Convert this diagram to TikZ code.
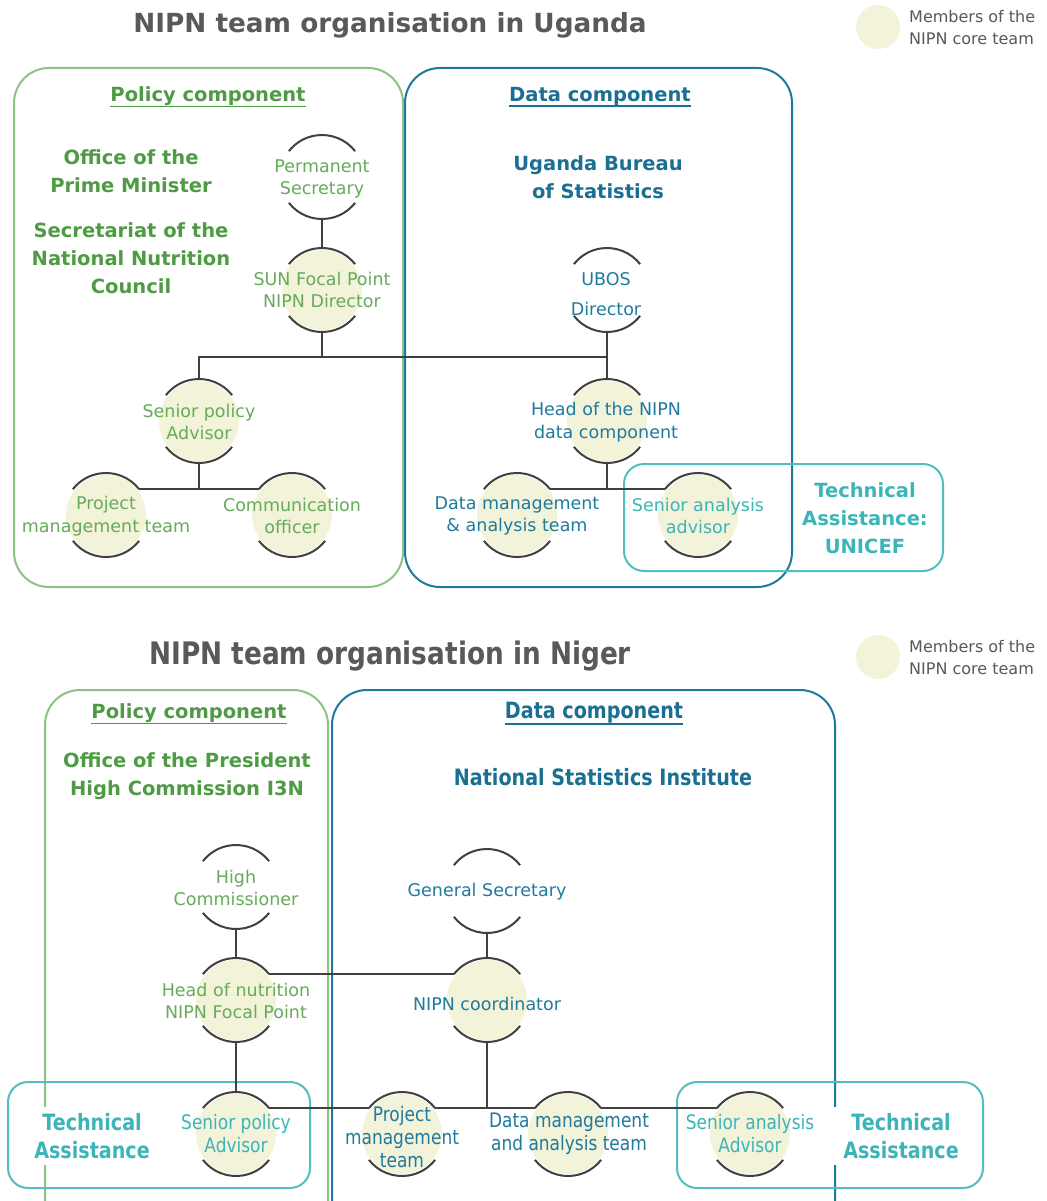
\documentclass[tikz,border=0pt]{standalone}
\usepackage{fontspec}
\setmainfont{DejaVu Sans}
\newfontfamily\condf{DejaVu Sans}[FakeStretch=0.85]
\definecolor{gtext}{HTML}{4F9A44}
\definecolor{glbl}{HTML}{66AB5A}
\definecolor{gbox}{HTML}{8CC282}
\definecolor{btext}{HTML}{1A6F92}
\definecolor{blbl}{HTML}{1F7A9E}
\definecolor{bbox}{HTML}{1E7A9C}
\definecolor{tealtxt}{HTML}{3DB4B7}
\definecolor{tbox}{HTML}{52BEC1}
\definecolor{pale}{HTML}{F3F3D9}
\definecolor{titlec}{HTML}{595959}
\definecolor{connc}{HTML}{404040}
\newcommand\lblf{\fontsize{17.5}{22.5}\selectfont}
\newcommand\clblf{\condf\fontsize{20}{23}\selectfont}
\newcommand\hdrf{\fontsize{19.5}{28}\selectfont\bfseries}
\newcommand\chdrf{\condf\fontsize{22.5}{28}\selectfont\bfseries}
\newcommand\titlef{\fontsize{26.3}{30}\selectfont\bfseries}
\newcommand\ctitlef{\condf\fontsize{31}{34}\selectfont\bfseries}
\newcommand\legf{\fontsize{16}{22}\selectfont}
\newcommand\caparcs[1]{%
  \draw[conn] ([shift={(38:42pt)}]#1.center) arc[start angle=38,end angle=142,radius=42pt];
  \draw[conn] ([shift={(218:42pt)}]#1.center) arc[start angle=218,end angle=322,radius=42pt];}
\begin{document}
\begin{tikzpicture}[x=1pt,y=1pt,
  mem/.style={circle, minimum size=80pt, inner sep=0pt, outer sep=2pt, fill=pale},
  nomem/.style={circle, minimum size=80pt, inner sep=0pt, outer sep=2pt},
  lbl/.style={align=center, font=\lblf, inner sep=0pt},
  clbl/.style={align=center, font=\clblf, inner sep=0pt},
  hdr/.style={align=center, font=\hdrf, inner sep=0pt},
  chdr/.style={align=center, font=\chdrf, inner sep=0pt},
  conn/.style={draw=connc, line width=2pt},
  gbx/.style={draw=gbox, line width=2pt, rounded corners=35pt},
  bbx/.style={draw=bbox, line width=2pt, rounded corners=35pt},
  tbx/.style={draw=tbox, line width=2pt, rounded corners=20pt},
  legc/.style={circle, fill=pale, minimum size=44pt, inner sep=0pt},
  legt/.style={anchor=west, align=left, font=\legf, text=titlec, inner sep=0pt},
  ul/.style={line width=1.6pt}
]
\useasboundingbox (0,0) rectangle (1046,-1201);
\fill[white] (0,0) rectangle (1046,-1201);
\clip (0,0) rectangle (1046,-1201);

% ================= UGANDA =================
\node[font=\titlef, text=titlec] (utitle) at (390,-25) {NIPN team organisation in Uganda};
\node[legc] (uleg) at (878,-27) {};
\node[legt] (ulegt) at (909,-28) {Members of the\\NIPN core team};

\draw[gbx] (14,-68) rectangle (403,-587);
\draw[bbx] (405,-68) rectangle (792,-587);
\draw[tbx] (624,-464) rectangle (943,-571);

\node[hdr, text=gtext] (upc) at (208,-96) {Policy component};
\draw[gtext, ul] ([yshift=-5pt]upc.base west) -- ([yshift=-5pt]upc.base east);
\node[hdr, text=btext] (udc) at (600,-96) {Data component};
\draw[btext, ul] ([yshift=-5pt]udc.base west) -- ([yshift=-5pt]udc.base east);

\node[hdr, text=gtext] (uopm) at (131,-171) {Office of the\\Prime Minister};
\node[hdr, text=gtext] (usnnc) at (131,-258) {Secretariat of the\\National Nutrition\\Council};
\node[hdr, text=btext] (uubos) at (598,-177) {Uganda Bureau\\of Statistics};
\node[hdr, text=tealtxt] (uta) at (865,-518) {Technical\\Assistance:\\UNICEF};

\node[nomem] (ps) at (322,-177) {};
\node[mem] (sun) at (322,-290) {};
\node[nomem] (ubos) at (607,-290) {};
\node[mem] (spa) at (199,-421) {};
\node[mem] (head) at (607,-421) {};
\node[mem] (pm) at (106,-515) {};
\node[mem] (co) at (292,-515) {};
\node[mem] (dm) at (517,-515) {};
\node[mem] (sa) at (698,-515) {};
\foreach \n in {ps,sun,ubos,spa,head,pm,co,dm,sa} {\caparcs{\n}}

\coordinate (uj) at (322,-357);
\draw[conn] (ps.south) -- (sun.north);
\draw[conn] (sun.south) -- (uj);
\draw[conn] (spa.north) |- (ubos.south |- uj) -- (ubos.south);
\draw[conn] (ubos.south |- uj) -- (head.north);
\draw[conn] (spa.south) -- (spa.south |- pm.38);
\draw[conn] (pm.38) -- (co.142);
\draw[conn] (head.south) -- (head.south |- dm.38);
\draw[conn] (dm.38) -- (sa.142);

\node[lbl, text=glbl] (pst) at (322,-179) {Permanent\\Secretary};
\node[lbl, text=glbl] (sunt) at (322,-290) {SUN Focal Point\\NIPN Director};
\node[lbl, text=blbl] (ubost) at (606,-294) {UBOS\\[7pt]Director};
\node[lbl, text=glbl] (spat) at (199,-422) {Senior policy\\Advisor};
\node[lbl, text=blbl] (headt) at (606,-422) {Head of the NIPN\\data component};
\node[lbl, text=glbl] (pmt) at (106,-516) {Project\\management team};
\node[lbl, text=glbl] (cot) at (292,-516) {Communication\\officer};
\node[lbl, text=blbl] (dmt) at (517,-516) {Data management\\\& analysis team};
\node[lbl, text=tealtxt] (sat) at (698,-516) {Senior analysis\\advisor};

% ================= NIGER =================
\node[font=\ctitlef, text=titlec] (ntitle) at (390,-656) {NIPN team organisation in Niger};
\node[legc] (nleg) at (878,-657) {};
\node[legt] (nlegt) at (909,-658) {Members of the\\NIPN core team};

\draw[gbx] (45,-690) rectangle (328,-1240);
\draw[bbx] (332,-690) rectangle (835,-1240);
\draw[tbx] (8,-1082) rectangle (310,-1188);
\draw[tbx] (677,-1082) rectangle (983,-1188);

\node[hdr, text=gtext] (npc) at (189,-713) {Policy component};
\draw[gtext, ul] ([yshift=-5pt]npc.base west) -- ([yshift=-5pt]npc.base east);
\node[chdr, text=btext] (ndc) at (594,-713) {Data component};
\draw[btext, ul] ([yshift=-5pt]ndc.base west) -- ([yshift=-5pt]ndc.base east);

\node[hdr, text=gtext] (nop) at (187,-776) {Office of the President\\High Commission I3N};
\node[chdr, text=btext] (nnsi) at (603,-777) {National Statistics Institute};
\node[chdr, text=tealtxt, fill=white, inner xsep=17pt, inner ysep=6pt] (ntal) at (92,-1136) {Technical\\Assistance};
\node[chdr, text=tealtxt, fill=white, inner xsep=17pt, inner ysep=6pt] (ntar) at (901,-1136) {Technical\\Assistance};

\node[nomem] (hc) at (236,-887) {};
\node[mem] (hn) at (236,-1000) {};
\node[nomem] (gs) at (487,-891) {};
\node[mem] (nc) at (487,-1000) {};
\node[mem] (spa2) at (236,-1134) {};
\node[mem] (pm2) at (402,-1134) {};
\node[mem] (dm2) at (568,-1134) {};
\node[mem] (sa2) at (750,-1134) {};
\foreach \n in {hc,hn,gs,nc,spa2,pm2,dm2,sa2} {\caparcs{\n}}

\draw[conn] (hc.south) -- (hn.north);
\draw[conn] (gs.south) -- (nc.north);
\draw[conn] (hn.38) -- (nc.142);
\draw[conn] (hn.south) -- (spa2.north);
\draw[conn] (nc.south) -- (nc.south |- pm2.38);
\draw[conn] (spa2.38) -- (pm2.142);
\draw[conn] (pm2.38) -- (dm2.142);
\draw[conn] (dm2.38) -- (sa2.142);

\node[lbl, text=glbl] (hct) at (236,-888) {High\\Commissioner};
\node[lbl, text=glbl] (hnt) at (236,-1001) {Head of nutrition\\NIPN Focal Point};
\node[lbl, text=blbl] (gst) at (487,-892) {General Secretary};
\node[lbl, text=blbl] (nct) at (487,-1004) {NIPN coordinator};
\node[clbl, text=tealtxt] (spa2t) at (236,-1134) {Senior policy\\Advisor};
\node[clbl, text=blbl] (pm2t) at (402,-1137) {Project\\management\\team};
\node[clbl, text=blbl] (dm2t) at (569,-1134) {Data management\\and analysis team};
\node[clbl, text=tealtxt] (sa2t) at (750,-1134) {Senior analysis\\Advisor};
\end{tikzpicture}
\end{document}
